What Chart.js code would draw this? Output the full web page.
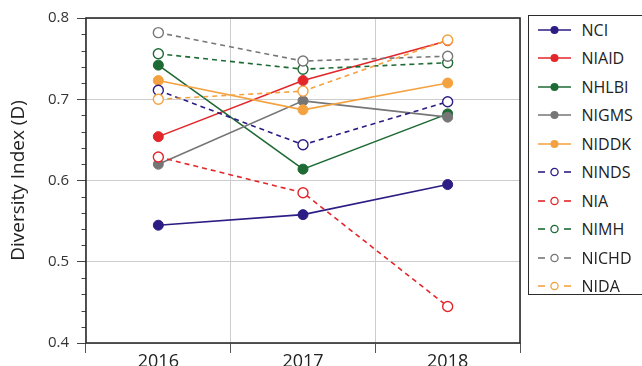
<!DOCTYPE html>
<html>
<head>
<meta charset="utf-8">
<script src="https://cdn.jsdelivr.net/npm/chart.js@4.4.1/dist/chart.umd.min.js"></script>
<style>
  html, body { margin: 0; padding: 0; background: #ffffff; }
  #wrap { position: relative; width: 642px; height: 366px; overflow: hidden; }
  #c { position: absolute; left: 0; top: 0; }
  #legend {
    position: absolute; left: 528px; top: 15px; width: 130px; height: 280px;
    border: 1.5px solid #2b2b2b; box-sizing: border-box; background: #fff;
    font-family: "Open Sans", sans-serif; font-size: 16px; color: #222;
  }
  .item { position: absolute; left: 0; height: 20px; display: flex; align-items: center; white-space: nowrap; }
  .item svg { margin-left: 8.5px; display: block; }
  .item span { margin-left: 11px; line-height: 20px; }
</style>
</head>
<body>
<div id="wrap">
  <canvas id="c" width="642" height="366"></canvas>
  <div id="legend"></div>
</div>
<script>
// Fiscal years on the x axis
const years = ['2016', '2017', '2018'];

// Diversity index (D) per institute
const institutes = ['NCI', 'NIAID', 'NHLBI', 'NIGMS', 'NIDDK', 'NINDS', 'NIA', 'NIMH', 'NICHD', 'NIDA'];
const nci   = [0.545, 0.558, 0.595];
const niaid = [0.654, 0.723, 0.772];
const nhlbi = [0.742, 0.614, 0.682];
const nigms = [0.620, 0.698, 0.678];
const niddk = [0.723, 0.687, 0.720];
const ninds = [0.711, 0.644, 0.697];
const nia   = [0.629, 0.585, 0.445];
const nimh  = [0.756, 0.737, 0.745];
const nichd = [0.782, 0.747, 0.753];
const nida  = [0.700, 0.710, 0.773];

// Y axis range and labelled tick values
const yTicks = [0.4, 0.5, 0.6, 0.7, 0.8];

const seriesValues = [nci, niaid, nhlbi, nigms, niddk, ninds, nia, nimh, nichd, nida];
const seriesColors = ['#2c1d85', '#e3262a', '#1e6a34', '#767676', '#f4a240',
                      '#2c1d85', '#e3262a', '#1e6a34', '#767676', '#f4a240'];
const seriesDashed = [false, false, false, false, false, true, true, true, true, true];

const datasets = institutes.map((name, i) => {
  const col = seriesColors[i];
  const dash = seriesDashed[i];
  return {
    label: name,
    data: seriesValues[i],
    borderColor: col,
    backgroundColor: col,
    borderWidth: 1.6,
    borderDash: dash ? [5, 4] : [],
    pointRadius: 5,
    pointHoverRadius: 5,
    pointBorderWidth: dash ? 1.4 : 1,
    pointBackgroundColor: dash ? '#ffffff' : col,
    pointBorderColor: col,
    tension: 0,
    fill: false,
    order: institutes.length - i   // later series drawn on top
  };
});

// Frame around the plot area plus short minor ticks on the y axis
const framePlugin = {
  id: 'frame',
  beforeDatasetsDraw(chart) {
    const { ctx, chartArea: a, scales: { y } } = chart;
    ctx.save();
    ctx.strokeStyle = '#444';
    ctx.lineWidth = 1;
    for (let k = 21; k < 40; k++) {
      if (k % 5 === 0) continue;
      const py = Math.round(y.getPixelForValue(k * 0.02)) + 0.5;
      ctx.beginPath();
      ctx.moveTo(a.left - 4.5, py);
      ctx.lineTo(a.left, py);
      ctx.stroke();
    }
    ctx.strokeStyle = '#2b2b2b';
    ctx.lineWidth = 1.6;
    ctx.strokeRect(a.left, a.top, a.right - a.left, a.bottom - a.top);
    ctx.restore();
  }
};

const chart = new Chart(document.getElementById('c'), {
  type: 'line',
  data: { labels: years, datasets },
  options: {
    responsive: false,
    animation: false,
    devicePixelRatio: 1,
    layout: { padding: { top: 18, right: 122, left: 0, bottom: 0 } },
    plugins: { legend: { display: false }, tooltip: { enabled: false } },
    scales: {
      x: {
        type: 'category',
        offset: true,
        grid: { offset: true, color: '#cdcdcd', lineWidth: 1, tickLength: 10, tickColor: '#555' },
        border: { display: false },
        ticks: { font: { family: 'Open Sans', size: 18 }, color: '#222', padding: -2, maxRotation: 0 },
        afterFit(scale) { scale.height = 23; }
      },
      y: {
        min: yTicks[0],
        max: yTicks[yTicks.length - 1],
        afterBuildTicks(scale) { scale.ticks = yTicks.map(v => ({ value: v })); },
        grid: { color: '#cdcdcd', lineWidth: 1, tickLength: 9, tickColor: '#444' },
        border: { display: false },
        ticks: {
          font: { family: 'Open Sans', size: 15 },
          color: '#333',
          padding: 8,
          callback: v => Number(v).toFixed(1)
        },
        title: {
          display: true,
          text: 'Diversity Index (D)',
          font: { family: 'Open Sans', size: 19 },
          color: '#222',
          padding: { top: 7, bottom: 0 }
        },
        afterFit(scale) { scale.width = 86; }
      }
    }
  },
  plugins: [framePlugin]
});

// Legend built from the chart's datasets
const legendEl = document.getElementById('legend');
chart.data.datasets.forEach((ds, i) => {
  const item = document.createElement('div');
  item.className = 'item';
  item.style.top = (30 + 28.5 * i - 15 - 1.5 - 10) + 'px';
  const col = ds.borderColor;
  let svg;
  if (ds.borderDash.length) {
    svg = `<svg width="33" height="12" viewBox="0 0 33 12">
      <line x1="0" y1="6" x2="7" y2="6" stroke="${col}" stroke-width="1.6"/>
      <circle cx="16.5" cy="6" r="3.6" fill="#fff" stroke="${col}" stroke-width="1.3"/>
      <line x1="26" y1="6" x2="33" y2="6" stroke="${col}" stroke-width="1.6"/></svg>`;
  } else {
    svg = `<svg width="33" height="12" viewBox="0 0 33 12">
      <line x1="0" y1="6" x2="33" y2="6" stroke="${col}" stroke-width="1.6"/>
      <circle cx="16.5" cy="6" r="4" fill="${col}"/></svg>`;
  }
  item.innerHTML = svg + `<span>${ds.label}</span>`;
  legendEl.appendChild(item);
});
</script>
</body>
</html>
